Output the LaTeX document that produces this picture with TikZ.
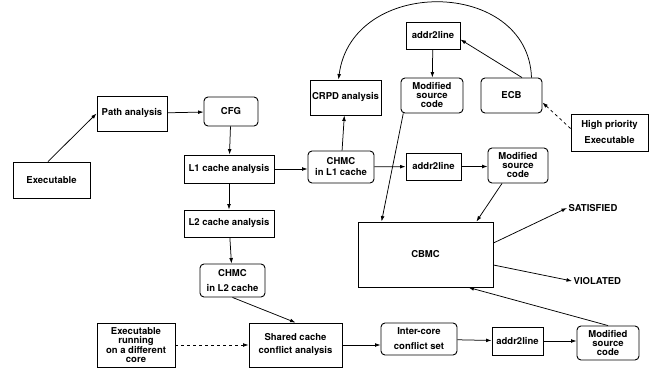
\documentclass[tikz,border=0pt]{standalone}
\usepackage{fontspec}
\setmainfont{TeX Gyre Heros}
\usetikzlibrary{arrows.meta}
\begin{document}
\begin{tikzpicture}[x=1pt,y=-1pt,
  every node/.style={font=\fontsize{9.5}{11}\selectfont\bfseries, align=center, inner sep=0pt},
  box/.style={draw, line width=0.9pt, minimum width=#1},
  box/.default=60pt,
  rbox/.style={box=#1, rounded corners=4pt},
  rbox/.default=60pt,
  arr/.style={-{Latex[length=5.5pt,width=3.8pt]}, line width=0.75pt},
  lbl/.style={inner sep=1.5pt}]
\useasboundingbox (0,0) rectangle (657,372);

% left column: analysis chain
\node[box=77pt, minimum height=36pt] (exe) at (51.5,180) {Executable};
\node[box=70pt, minimum height=35pt] (path) at (132,113.5) {Path analysis};
\node[rbox=54pt, minimum height=29pt] (cfg) at (231,111.5) {CFG};
\node[box=90pt, minimum height=28pt] (l1) at (229,169) {L1 cache analysis};
\node[box=90pt, minimum height=27pt] (l2) at (229,223.5) {L2 cache analysis};
\node[rbox=65pt, minimum height=33pt, font=\fontsize{9.5}{14.5}\selectfont\bfseries] (chmc2) at (232.5,280.5) {CHMC\\in L2 cache};

% bottom row: inter-core conflicts
\node[box=78pt, minimum height=44pt, font=\fontsize{9.5}{9}\selectfont\bfseries] (exerun) at (136,345) {Executable\\running\\on a different\\core};
\node[box=93pt, minimum height=44pt, font=\fontsize{9.5}{13}\selectfont\bfseries] (shared) at (295.5,345) {Shared cache\\conflict analysis};
\node[rbox=76pt, minimum height=32pt, font=\fontsize{9.5}{15}\selectfont\bfseries] (inter) at (419,339) {Inter-core\\conflict set};
\node[box=51pt, minimum height=28pt] (a2l3) at (517.5,341) {addr2line};
\node[rbox=62pt, minimum height=34pt, font=\fontsize{9.5}{9}\selectfont\bfseries] (mod3) at (608,343) {Modified\\source\\code};

% model checker
\node[box=135pt, minimum height=65pt] (cbmc) at (425.5,254.5) {CBMC};
\node[lbl, anchor=west] (sat) at (567,208) {SATISFIED};
\node[lbl, anchor=west] (viol) at (572,281) {VIOLATED};

% upper right: preemption analysis
\node[box=71pt, minimum height=35pt] (crpd) at (345.5,97.5) {CRPD analysis};
\node[box=54pt, minimum height=27pt] (a2l1) at (433,35.5) {addr2line};
\node[rbox=62pt, minimum height=35pt, font=\fontsize{9.5}{9}\selectfont\bfseries] (mod1) at (432,95.5) {Modified\\source\\code};
\node[rbox=61pt, minimum height=35pt] (ecb) at (511.5,95.5) {ECB};
\node[box=77pt, minimum height=37pt, font=\fontsize{9.5}{16}\selectfont\bfseries] (hp) at (609.5,132.5) {High priority\\Executable};
\node[rbox=66pt, minimum height=32pt, font=\fontsize{9.5}{11}\selectfont\bfseries] (chmc1) at (341,167) {CHMC\\in L1 cache};
\node[box=55pt, minimum height=27pt] (a2l2) at (433.5,166.5) {addr2line};
\node[rbox=60pt, minimum height=35pt, font=\fontsize{9.5}{9}\selectfont\bfseries] (mod2) at (518,165.5) {Modified\\source\\code};

% connectors
\draw[arr] ([xshift=-3.5pt]exe.north) -- (path.west);
\draw[arr] (path) -- (cfg);
\draw[arr] (cfg) -- (l1);
\draw[arr] (l1) -- (l2);
\draw[arr] (l2) -- (chmc2);
\draw[arr] (chmc2.south) -- (shared.north);
\draw[arr, dashed] (exerun) -- (shared);
\draw[arr] (shared.east) -- (inter.west |- shared.east);
\draw[arr] (inter) -- (a2l3);
\draw[arr] (a2l3) -- (mod3.west |- a2l3);
\draw[arr] (mod3.north) -- ([xshift=-25pt]cbmc.south east);
\draw[arr] ([yshift=11.5pt]cbmc.east) -- (sat.west);
\draw[arr] ([yshift=-10.5pt]cbmc.east) -- (viol.west);

\draw[arr] (l1) -- (chmc1.west |- l1);
\draw[arr] (chmc1) -- (crpd);
\draw[arr] (chmc1) -- (a2l2);
\draw[arr] (a2l2) -- (mod2.west |- a2l2);
\draw[arr] ([xshift=-16pt]mod2.south) -- ([xshift=-17pt]cbmc.north east);
\draw[arr] (mod1.212) -- ([xshift=24pt]cbmc.north west);
\draw[arr] (a2l1) -- (mod1);
\draw[arr] ([xshift=10.5pt]ecb.north) -- ([yshift=-4pt]a2l1.east);
\draw[arr] ([xshift=20pt]ecb.north) .. controls (528,-22) and (352,-24) .. ([xshift=-7pt]crpd.north);
\draw[arr, dashed] ([yshift=4pt]hp.west) -- ([yshift=-7pt]ecb.east);
\end{tikzpicture}
\end{document}
